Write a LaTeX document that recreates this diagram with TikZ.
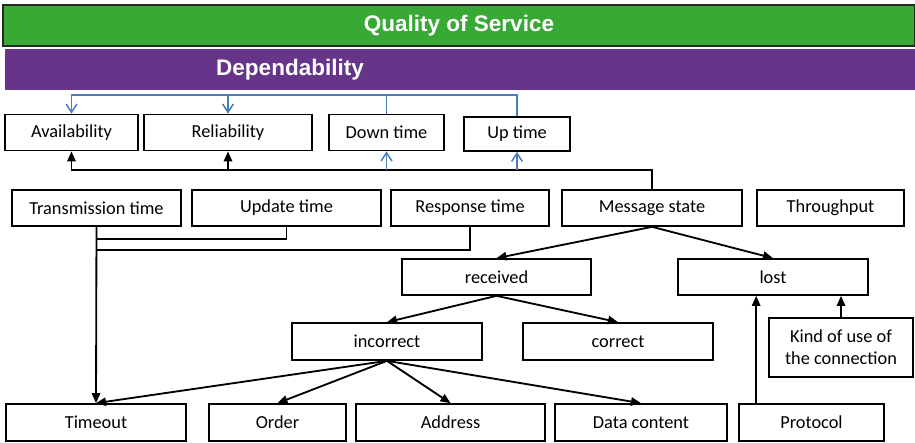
\documentclass[tikz,border=0pt]{standalone}
\usepackage{fontspec}
\setmainfont{Carlito}
\newfontfamily\headfont{Liberation Sans}
\usetikzlibrary{positioning,arrows.meta}

\definecolor{qosgreen}{HTML}{38A935}
\definecolor{deppurple}{HTML}{663489}
\definecolor{linkblue}{HTML}{4A7EBB}

\tikzset{
  box/.style={draw,line width=1pt,fill=white,inner sep=0pt,
    minimum height=21.6pt,font=\fontsize{11}{13}\selectfont,align=center},
  bw/.style={minimum width=#1*0.6pt},
  bar/.style={inner sep=0pt,minimum height=24.6pt},
  headtext/.style={text=white,font=\headfont\bfseries\fontsize{13.5}{15}\selectfont},
  arr/.style={line width=1.1pt,-{Triangle[length=6pt,width=5pt]}},
  link/.style={line width=1.1pt},
  bluearr/.style={draw=linkblue,line width=0.9pt,-{Straight Barb[length=5pt,width=6.5pt]}},
  blueline/.style={draw=linkblue,line width=0.9pt}
}

\begin{document}
\begin{tikzpicture}[x=0.6pt,y=-0.6pt]
  \useasboundingbox (0,0) rectangle (915,442);

  % Header bars
  \node[bar,fill=qosgreen,draw=black!85,line width=0.9pt,bw=912,headtext] (qos) at (459,25.5) {Quality of Service};
  \node[bar,fill=deppurple,bw=910] (dep) at (460,69.5) {};
  \node[headtext] (deptext) at (290,70) {Dependability};

  % Top row
  \node[box,bw=133] (avail) at (71.5,132.5) {Availability};
  \node[box,bw=168] (rel) at (228,132.5) {Reliability};
  \node[box,bw=115] (down) at (386.5,132.5) {Down time};
  \node[box,bw=106,minimum height=20.4pt] (up) at (517,134) {Up time};

  % Second row
  \node[box,bw=169] (trans) at (96.5,208) {Transmission time};
  \node[box,bw=189] (upd) at (286.5,208) {Update time};
  \node[box,bw=158] (resp) at (470,208) {Response time};
  \node[box,bw=180] (msg) at (652,208) {Message state};
  \node[box,bw=147] (thr) at (830.5,208) {Throughput};

  % Message state branches
  \node[box,bw=189] (recv) at (496.5,277) {received};
  \node[box,bw=190] (lost) at (773,277) {lost};
  \node[box,bw=190,minimum height=22.2pt] (incor) at (387,341.5) {incorrect};
  \node[box,bw=190,minimum height=22.2pt] (corr) at (618,341.5) {correct};
  \node[box,bw=144,minimum height=35.4pt] (kind) at (841,347.5) {Kind of use of\\the connection};

  % Bottom row
  \node[box,bw=180,minimum height=22.2pt] (timeout) at (96,422.5) {Timeout};
  \node[box,bw=137,minimum height=22.2pt] (order) at (277.5,422.5) {Order};
  \node[box,bw=189,minimum height=22.2pt] (addr) at (450.5,422.5) {Address};
  \node[box,bw=172,minimum height=22.2pt] (data) at (641,422.5) {Data content};
  \node[box,bw=145,minimum height=22.2pt] (proto) at (811.5,422.5) {Protocol};

  % Blue links below the header
  \coordinate (topbus) at (0,95);
  \draw[bluearr] (up.north) |- (avail.north |- topbus) -- (avail.north);
  \draw[blueline] (down.north) -- (down.north |- topbus);
  \draw[bluearr] (rel.north |- topbus) -- (rel.north);

  % Links up from message state
  \coordinate (midbus) at (0,170);
  \draw[arr] (msg.north) |- (avail.south |- midbus) -- (avail.south);
  \draw[arr] (rel.south |- midbus) -- (rel.south);
  \draw[bluearr] (down.south |- midbus) -- (down.south);
  \draw[bluearr] (up.south |- midbus) -- (up.south);

  % Timing links to timeout
  \draw[arr] (trans.south) -- (timeout.north);
  \draw[link] (upd.south) |- (trans.south |- 0,239);
  \draw[link] (resp.south) |- (trans.south |- 0,250);

  % Tree of message state
  \draw[arr] (msg.south) -- (recv.north);
  \draw[arr] (msg.south) -- (lost.north);
  \draw[arr] (recv.south) -- (incor.north);
  \draw[arr] (recv.south) -- (corr.north);
  \foreach \t in {timeout,order,addr,data}
    \draw[arr] (incor.south) -- (\t.north);

  % Causes of loss
  \draw[arr] (proto.north west) ++(18,0) coordinate (pfoot) -- (pfoot |- lost.south);
  \draw[arr] (kind.north) -- (kind.north |- lost.south);
\end{tikzpicture}
\end{document}
